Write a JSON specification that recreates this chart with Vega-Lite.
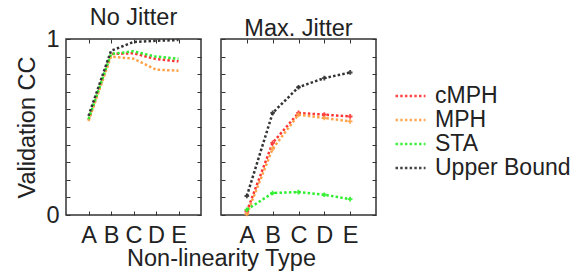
{
  "$schema": "https://vega.github.io/schema/vega-lite/v6.json",
  "background": "white",
  "bounds": "flush",
  "padding": {"left": 15, "top": 4, "right": 0, "bottom": 0},
  "config": {
    "font": "Liberation Sans",
    "view": {"stroke": "#333333", "strokeWidth": 1.5},
    "axis": {
      "domain": false, "grid": false, "tickColor": "#333333", "tickWidth": 1,
      "tickSize": -4, "labelFontSize": 23.5, "labelColor": "#222222",
      "titleFontSize": 23.5, "titleFontWeight": "normal", "titleColor": "#222222"
    },
    "title": {"fontSize": 23.5, "fontWeight": "normal", "color": "#222222", "offset": -2},
    "legend": {"labelFontSize": 23, "labelColor": "#222222"}
  },
  "datasets": {
    "cc": [
      {"panel": "No Jitter", "type": "A", "method": "cMPH", "cc": 0.54},
      {"panel": "No Jitter", "type": "B", "method": "cMPH", "cc": 0.915},
      {"panel": "No Jitter", "type": "C", "method": "cMPH", "cc": 0.919},
      {"panel": "No Jitter", "type": "D", "method": "cMPH", "cc": 0.886},
      {"panel": "No Jitter", "type": "E", "method": "cMPH", "cc": 0.873},
      {"panel": "No Jitter", "type": "A", "method": "MPH", "cc": 0.534},
      {"panel": "No Jitter", "type": "B", "method": "MPH", "cc": 0.9},
      {"panel": "No Jitter", "type": "C", "method": "MPH", "cc": 0.888},
      {"panel": "No Jitter", "type": "D", "method": "MPH", "cc": 0.826},
      {"panel": "No Jitter", "type": "E", "method": "MPH", "cc": 0.82},
      {"panel": "No Jitter", "type": "A", "method": "STA", "cc": 0.545},
      {"panel": "No Jitter", "type": "B", "method": "STA", "cc": 0.915},
      {"panel": "No Jitter", "type": "C", "method": "STA", "cc": 0.93},
      {"panel": "No Jitter", "type": "D", "method": "STA", "cc": 0.9},
      {"panel": "No Jitter", "type": "E", "method": "STA", "cc": 0.888},
      {"panel": "No Jitter", "type": "A", "method": "Upper Bound", "cc": 0.563},
      {"panel": "No Jitter", "type": "B", "method": "Upper Bound", "cc": 0.933},
      {"panel": "No Jitter", "type": "C", "method": "Upper Bound", "cc": 0.983},
      {"panel": "No Jitter", "type": "D", "method": "Upper Bound", "cc": 0.99},
      {"panel": "No Jitter", "type": "E", "method": "Upper Bound", "cc": 0.994},
      {"panel": "Max. Jitter", "type": "A", "method": "cMPH", "cc": 0.02},
      {"panel": "Max. Jitter", "type": "B", "method": "cMPH", "cc": 0.41},
      {"panel": "Max. Jitter", "type": "C", "method": "cMPH", "cc": 0.58},
      {"panel": "Max. Jitter", "type": "D", "method": "cMPH", "cc": 0.57},
      {"panel": "Max. Jitter", "type": "E", "method": "cMPH", "cc": 0.56},
      {"panel": "Max. Jitter", "type": "A", "method": "MPH", "cc": 0.006},
      {"panel": "Max. Jitter", "type": "B", "method": "MPH", "cc": 0.377},
      {"panel": "Max. Jitter", "type": "C", "method": "MPH", "cc": 0.57},
      {"panel": "Max. Jitter", "type": "D", "method": "MPH", "cc": 0.551},
      {"panel": "Max. Jitter", "type": "E", "method": "MPH", "cc": 0.532},
      {"panel": "Max. Jitter", "type": "A", "method": "STA", "cc": 0.03},
      {"panel": "Max. Jitter", "type": "B", "method": "STA", "cc": 0.125},
      {"panel": "Max. Jitter", "type": "C", "method": "STA", "cc": 0.13},
      {"panel": "Max. Jitter", "type": "D", "method": "STA", "cc": 0.115},
      {"panel": "Max. Jitter", "type": "E", "method": "STA", "cc": 0.09},
      {"panel": "Max. Jitter", "type": "A", "method": "Upper Bound", "cc": 0.108},
      {"panel": "Max. Jitter", "type": "B", "method": "Upper Bound", "cc": 0.58},
      {"panel": "Max. Jitter", "type": "C", "method": "Upper Bound", "cc": 0.726},
      {"panel": "Max. Jitter", "type": "D", "method": "Upper Bound", "cc": 0.778},
      {"panel": "Max. Jitter", "type": "E", "method": "Upper Bound", "cc": 0.81}
    ]
  },
  "spacing": 20,
  "hconcat": [
    {
      "title": "No Jitter",
      "width": 135,
      "height": 176,
      "data": {"name": "cc"},
      "transform": [{"filter": "datum.panel == 'No Jitter'"}],
      "layer": [
        {
          "mark": {"type": "line", "strokeWidth": 2.5, "strokeDash": [2.5, 2.2]},
          "encoding": {
            "x": {"field": "type", "type": "ordinal", "scale": {"type": "point", "padding": 1},
                  "axis": {"orient": "bottom", "labelAngle": 0, "labelPadding": 12, "title": "Non-linearity Type", "titleX": 155, "titlePadding": 0}},
            "y": {"field": "cc", "type": "quantitative", "scale": {"domain": [0, 1], "nice": false},
                  "axis": {"orient": "left", "values": [0, 0.1, 0.2, 0.3, 0.4, 0.5, 0.6, 0.7, 0.8, 0.9, 1],
                           "labelExpr": "datum.value == 0 ? '0' : (datum.value == 1 ? '1' : '')",
                           "labelPadding": 11, "title": "Validation CC", "titlePadding": 6}},
            "color": {"field": "method", "type": "nominal",
                      "scale": {"domain": ["cMPH", "MPH", "STA", "Upper Bound"], "range": ["#ff3535", "#ffa24a", "#30ee30", "#333333"]},
                      "legend": {"title": null, "orient": "right", "offset": -29, "padding": 45, "symbolType": "stroke", "symbolSize": 900,
                                 "symbolStrokeWidth": 2.5, "symbolDash": [2.5, 2.2], "labelOffset": 8, "rowPadding": 0, "clipHeight": 24}}
          }
        },
        {
          "mark": {"type": "point", "shape": "cross", "filled": true, "size": 12, "opacity": 0},
          "encoding": {
            "x": {"field": "type", "type": "ordinal", "axis": {"orient": "top", "labels": false, "title": null}},
            "y": {"field": "cc", "type": "quantitative",
                  "axis": {"orient": "right", "values": [0, 0.1, 0.2, 0.3, 0.4, 0.5, 0.6, 0.7, 0.8, 0.9, 1], "labels": false, "title": null}},
            "color": {"field": "method", "type": "nominal"}
          }
        }
      ]
    },
    {
      "title": "Max. Jitter",
      "width": 155,
      "height": 176,
      "data": {"name": "cc"},
      "transform": [{"filter": "datum.panel == 'Max. Jitter'"}],
      "layer": [
        {
          "mark": {"type": "line", "strokeWidth": 2.5, "strokeDash": [2.5, 2.2]},
          "encoding": {
            "x": {"field": "type", "type": "ordinal", "scale": {"type": "point", "padding": 1},
                  "axis": {"orient": "bottom", "labelAngle": 0, "labelPadding": 12, "title": null}},
            "y": {"field": "cc", "type": "quantitative", "scale": {"domain": [0, 1], "nice": false},
                  "axis": {"orient": "left", "values": [0, 0.1, 0.2, 0.3, 0.4, 0.5, 0.6, 0.7, 0.8, 0.9, 1], "labels": false, "title": null}},
            "color": {"field": "method", "type": "nominal",
                      "scale": {"domain": ["cMPH", "MPH", "STA", "Upper Bound"], "range": ["#ff3535", "#ffa24a", "#30ee30", "#333333"]}}
          }
        },
        {
          "mark": {"type": "point", "shape": "cross", "filled": true, "size": 22, "opacity": 0.9},
          "encoding": {
            "x": {"field": "type", "type": "ordinal", "axis": {"orient": "top", "labels": false, "title": null}},
            "y": {"field": "cc", "type": "quantitative",
                  "axis": {"orient": "right", "values": [0, 0.1, 0.2, 0.3, 0.4, 0.5, 0.6, 0.7, 0.8, 0.9, 1], "labels": false, "title": null}},
            "color": {"field": "method", "type": "nominal"}
          }
        }
      ]
    }
  ]
}
